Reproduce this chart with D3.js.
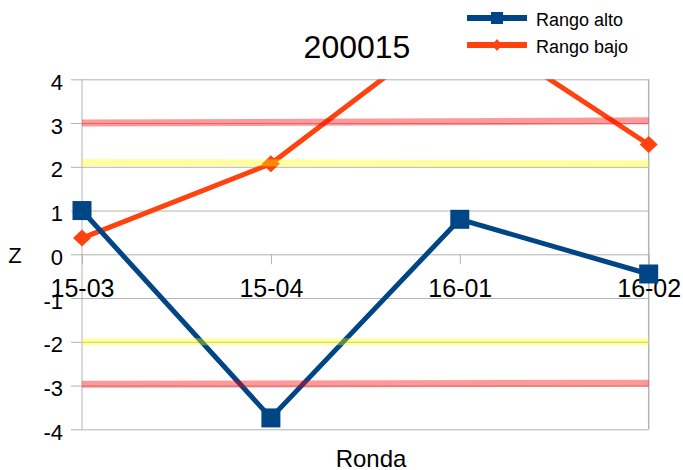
<!DOCTYPE html>
<html>
<head>
<meta charset="utf-8">
<script src="https://cdn.jsdelivr.net/npm/d3@7"></script>
<style>
body { margin: 0; background: #fff; }
svg { display: block; font-family: "Liberation Sans", Arial, sans-serif; }
</style>
</head>
<body>
<svg></svg>
<script>
let rondas = ["15-03", "15-04", "16-01", "16-02"]
let rangoAlto = [1.0, -3.74, 0.8, -0.45]
let rangoBajo = [0.37, 2.07, 5.35, 2.51]
let yTicks = [-4, -3, -2, -1, 0, 1, 2, 3, 4]

// limit bands, value at the left end and at the right end
let limiteRojoSup = [3.0, 3.05]
let limiteAmarilloSup = [2.1, 2.07]
let limiteAmarilloInf = [-2.0, -2.0]
let limiteRojoInf = [-2.97, -2.95]

let width = 683
let height = 470
// plot area (window.top is taken, so plotTop etc.)
let plotLeft = 82
let plotRight = 648.7
let plotTop = 79.3
let plotBottom = 429.3

let gridColor = "#b3b3b3"
let azul = "#004586"
let naranja = "#ff420e"

let svg = d3.select('svg')
svg.attr('width', width).attr('height', height)

let xScale = d3.scalePoint().domain(rondas).range([plotLeft, plotRight])
let yScale = d3.scaleLinear().domain([-4, 4]).range([plotBottom, plotTop])
let bandScale = d3.scaleLinear().domain([0, 1]).range([plotLeft, plotRight]) // for the limit lines

// horizontal gridlines + ticks on the left
let yAxis = d3.axisLeft(yScale).tickValues(yTicks).tickSize(11).tickFormat(d => d)
let gy = svg.append('g')
    .attr('transform', 'translate(' + plotLeft + ',0)')
    .call(yAxis)
gy.select('.domain').remove()
gy.selectAll('.tick line').attr('stroke', gridColor)
gy.selectAll('.tick').append('line')
    .attr('x1', 0).attr('x2', plotRight - plotLeft)
    .attr('stroke', gridColor)
gy.selectAll('.tick text')
    .attr('x', -19).attr('dy', 10)
    .attr('font-size', 22).attr('fill', '#000')
    .attr('font-family', '"Liberation Sans", Arial, sans-serif')

// vertical lines of the frame
svg.append('line')
    .attr('x1', plotLeft).attr('x2', plotLeft).attr('y1', plotTop).attr('y2', plotBottom)
    .attr('stroke', gridColor)
svg.append('line')
    .attr('x1', plotRight).attr('x2', plotRight).attr('y1', plotTop).attr('y2', plotBottom)
    .attr('stroke', gridColor).attr('stroke-width', 1.5)

// x axis crosses at zero
let xAxis = d3.axisBottom(xScale).tickSize(10)
let gx = svg.append('g')
    .attr('transform', 'translate(0,' + yScale(0) + ')')
    .call(xAxis)
gx.select('.domain').remove()
gx.selectAll('.tick line').attr('stroke', gridColor)
gx.selectAll('.tick text')
    .attr('y', 43).attr('dy', 0)
    .attr('font-size', 25).attr('fill', '#000')
    .attr('font-family', '"Liberation Sans", Arial, sans-serif')

// clip for the series
svg.append('clipPath').attr('id', 'clip')
    .append('rect')
    .attr('x', 0).attr('y', plotTop)
    .attr('width', width).attr('height', plotBottom - plotTop)

let plot = svg.append('g').attr('clip-path', 'url(#clip)')

let line = d3.line()
    .x((d, i) => xScale(rondas[i]))
    .y(d => yScale(d))

plot.append('path').datum(rangoBajo)
    .attr('d', line).attr('fill', 'none')
    .attr('stroke', naranja).attr('stroke-width', 5)
plot.append('path').datum(rangoAlto)
    .attr('d', line).attr('fill', 'none')
    .attr('stroke', azul).attr('stroke-width', 5)

plot.selectAll('.diamante').data(rangoBajo).enter().append('path')
    .attr('class', 'diamante')
    .attr('transform', (d, i) => 'translate(' + xScale(rondas[i]) + ',' + yScale(d) + ')')
    .attr('d', 'M0,-8.5L9,0L0,8.5L-9,0Z')
    .attr('fill', naranja)

plot.selectAll('.cuadro').data(rangoAlto).enter().append('rect')
    .attr('class', 'cuadro')
    .attr('x', (d, i) => xScale(rondas[i]) - 9.5)
    .attr('y', d => yScale(d) - 9.5)
    .attr('width', 19).attr('height', 19)
    .attr('fill', azul)

// limit bands drawn on top, semi transparent
let bandas = [
    {v: limiteRojoSup, c: '#ff0000', o: 0.4},
    {v: limiteAmarilloSup, c: '#ffff00', o: 0.37},
    {v: limiteAmarilloInf, c: '#ffff00', o: 0.37},
    {v: limiteRojoInf, c: '#ff0000', o: 0.4}
]
svg.selectAll('.banda').data(bandas).enter().append('line')
    .attr('class', 'banda')
    .attr('x1', bandScale(0)).attr('x2', bandScale(1))
    .attr('y1', d => yScale(d.v[0])).attr('y2', d => yScale(d.v[1]))
    .attr('stroke', d => d.c).attr('stroke-opacity', d => d.o)
    .attr('stroke-width', 7)

// titles
svg.append('text')
    .attr('x', 357).attr('y', 58)
    .attr('text-anchor', 'middle').attr('font-size', 32)
    .text('200015')
svg.append('text')
    .attr('x', 371).attr('y', 467)
    .attr('text-anchor', 'middle').attr('font-size', 24)
    .text('Ronda')
svg.append('text')
    .attr('x', 15).attr('y', 263)
    .attr('text-anchor', 'middle').attr('font-size', 22)
    .text('Z')

// legend
let legend = svg.append('g')
let series = [
    {name: 'Rango alto', color: azul, y: 18, marker: 'square'},
    {name: 'Rango bajo', color: naranja, y: 45, marker: 'diamond'}
]
series.forEach(s => {
    legend.append('line')
        .attr('x1', 467).attr('x2', 527).attr('y1', s.y).attr('y2', s.y)
        .attr('stroke', s.color).attr('stroke-width', 6)
    if (s.marker == 'square') {
        legend.append('rect')
            .attr('x', 491).attr('y', s.y - 6).attr('width', 12).attr('height', 12)
            .attr('fill', s.color)
    } else {
        legend.append('path')
            .attr('transform', 'translate(497,' + s.y + ')')
            .attr('d', 'M0,-6L5,0L0,6L-5,0Z')
            .attr('fill', s.color)
    }
    legend.append('text')
        .attr('x', 536).attr('y', s.y + 8)
        .attr('font-size', 18)
        .text(s.name)
})
</script>
</body>
</html>
